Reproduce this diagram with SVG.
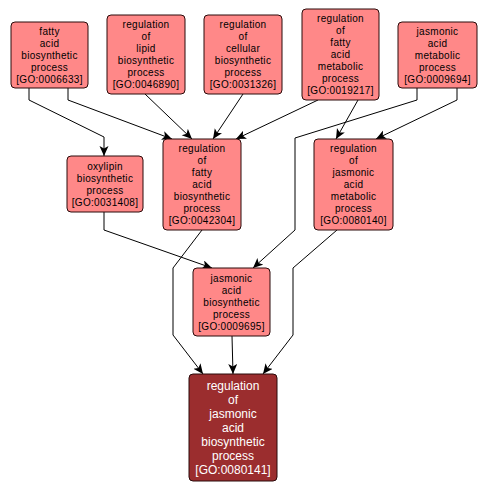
<svg xmlns="http://www.w3.org/2000/svg" width="486" height="492" viewBox="0 0 486 492">
<defs>
<style>
.n rect{fill:#ff8888;stroke:#2a0a0a;stroke-width:1}
.n text{font-family:"Liberation Sans",Arial,sans-serif;font-size:10px;letter-spacing:0.3px;fill:#000;text-anchor:middle}
.d rect{fill:#9b2d2e;stroke:#2a0a0a;stroke-width:1}
.d text{font-family:"Liberation Sans",Arial,sans-serif;font-size:12px;fill:#fff;text-anchor:middle}
.e path{fill:none;stroke:#000;stroke-width:1;marker-end:url(#ah)}
</style>
<marker id="ah" markerUnits="userSpaceOnUse" markerWidth="12" markerHeight="10" refX="10" refY="4.5" orient="auto" viewBox="0 0 12 10">
<path d="M0,0 L10,4.5 L0,9 L2.5,4.5 z" fill="#000"/>
</marker>
</defs>
<rect width="486" height="492" fill="#fff"/>
<g id="connectors" class="e">
<path d="M29,88 L29,100 L104,137 L104,156"/>
<path d="M68,88 L68,100 L172,139"/>
<path d="M145,94 L192,139"/>
<path d="M243,94 L213,139"/>
<path d="M318,100 L236,139"/>
<path d="M358,100 L336,139"/>
<path d="M457,88 L457,100 L376,139"/>
<path d="M417,88 L417,100 L295,138 L295,230 L253,268"/>
<path d="M104,212 L104,230 L212,268"/>
<path d="M202,230 L173,268 L173,335 L203,374"/>
<path d="M232,336 L233,374"/>
<path d="M337,230 L293,268 L293,335 L263,374"/>
</g>
<g id="GO0006633" class="n">
<rect x="11" y="22" width="77" height="66" rx="4"/>
<text x="49.5" y="34.5">fatty</text>
<text x="49.5" y="46.5">acid</text>
<text x="49.5" y="58.5">biosynthetic</text>
<text x="49.5" y="70.5">process</text>
<text x="49.5" y="82.5">[GO:0006633]</text>
</g>
<g id="GO0046890" class="n">
<rect x="107" y="15" width="78" height="79" rx="4"/>
<text x="146" y="28">regulation</text>
<text x="146" y="40">of</text>
<text x="146" y="52">lipid</text>
<text x="146" y="64">biosynthetic</text>
<text x="146" y="76">process</text>
<text x="146" y="88">[GO:0046890]</text>
</g>
<g id="GO0031326" class="n">
<rect x="204" y="15" width="78" height="79" rx="4"/>
<text x="243" y="28">regulation</text>
<text x="243" y="40">of</text>
<text x="243" y="52">cellular</text>
<text x="243" y="64">biosynthetic</text>
<text x="243" y="76">process</text>
<text x="243" y="88">[GO:0031326]</text>
</g>
<g id="GO0019217" class="n">
<rect x="302" y="9" width="77" height="91" rx="4"/>
<text x="340.5" y="22">regulation</text>
<text x="340.5" y="34">of</text>
<text x="340.5" y="46">fatty</text>
<text x="340.5" y="58">acid</text>
<text x="340.5" y="70">metabolic</text>
<text x="340.5" y="82">process</text>
<text x="340.5" y="94">[GO:0019217]</text>
</g>
<g id="GO0009694" class="n">
<rect x="398" y="22" width="79" height="66" rx="4"/>
<text x="437.5" y="34.5">jasmonic</text>
<text x="437.5" y="46.5">acid</text>
<text x="437.5" y="58.5">metabolic</text>
<text x="437.5" y="70.5">process</text>
<text x="437.5" y="82.5">[GO:0009694]</text>
</g>
<g id="GO0031408" class="n">
<rect x="67" y="156" width="76" height="56" rx="4"/>
<text x="105" y="169.5">oxylipin</text>
<text x="105" y="181.5">biosynthetic</text>
<text x="105" y="193.5">process</text>
<text x="105" y="205.5">[GO:0031408]</text>
</g>
<g id="GO0042304" class="n">
<rect x="163" y="139" width="78" height="91" rx="4"/>
<text x="202" y="152">regulation</text>
<text x="202" y="164">of</text>
<text x="202" y="176">fatty</text>
<text x="202" y="188">acid</text>
<text x="202" y="200">biosynthetic</text>
<text x="202" y="212">process</text>
<text x="202" y="224">[GO:0042304]</text>
</g>
<g id="GO0080140" class="n">
<rect x="314" y="139" width="79" height="91" rx="4"/>
<text x="353.5" y="152">regulation</text>
<text x="353.5" y="164">of</text>
<text x="353.5" y="176">jasmonic</text>
<text x="353.5" y="188">acid</text>
<text x="353.5" y="200">metabolic</text>
<text x="353.5" y="212">process</text>
<text x="353.5" y="224">[GO:0080140]</text>
</g>
<g id="GO0009695" class="n">
<rect x="193" y="268" width="77" height="68" rx="4"/>
<text x="231.5" y="281.5">jasmonic</text>
<text x="231.5" y="293.5">acid</text>
<text x="231.5" y="305.5">biosynthetic</text>
<text x="231.5" y="317.5">process</text>
<text x="231.5" y="329.5">[GO:0009695]</text>
</g>
<g id="GO0080141" class="d">
<rect x="189" y="374" width="88" height="107" rx="4"/>
<text x="233" y="390">regulation</text>
<text x="233" y="404">of</text>
<text x="233" y="418">jasmonic</text>
<text x="233" y="432">acid</text>
<text x="233" y="446">biosynthetic</text>
<text x="233" y="460">process</text>
<text x="233" y="474">[GO:0080141]</text>
</g>
</svg>
